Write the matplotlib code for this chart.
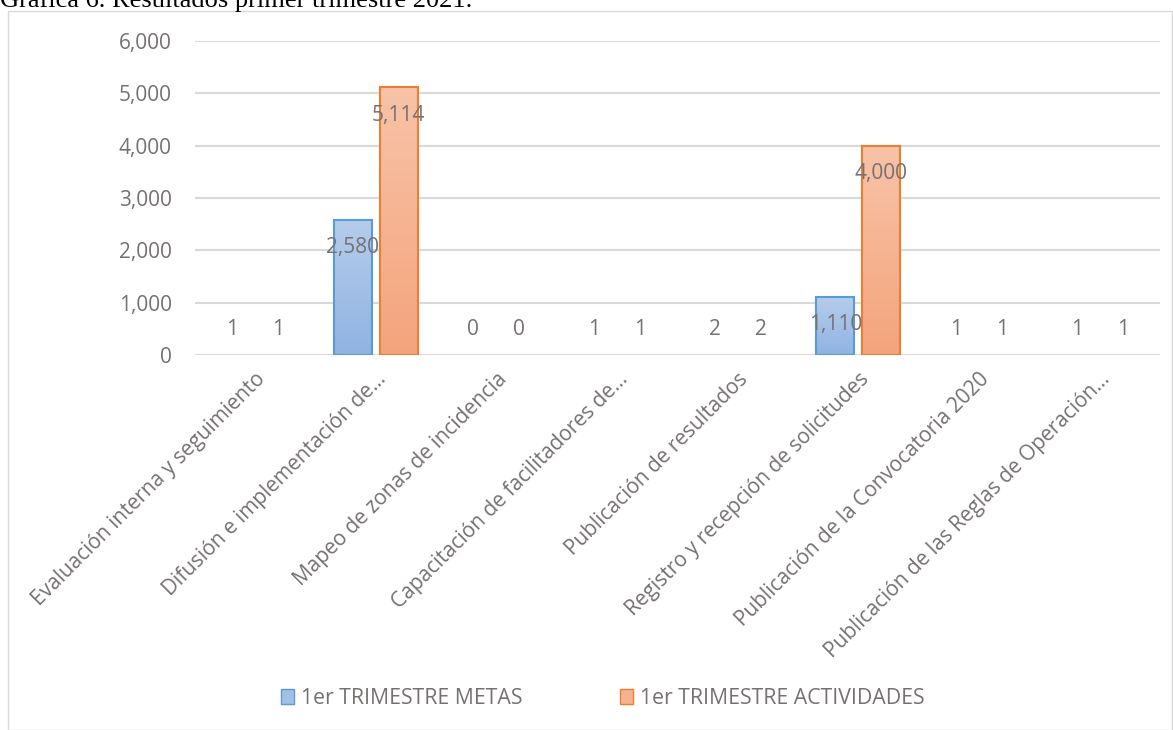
import numpy as np
import matplotlib
matplotlib.use('Agg')
import matplotlib.pyplot as plt
from matplotlib.patches import Patch, Rectangle
from matplotlib.colors import LinearSegmentedColormap

# datos
categorias = [
    "Evaluación interna y seguimiento",
    "Difusión e implementación de…",
    "Mapeo de zonas de incidencia",
    "Capacitación de facilitadores de…",
    "Publicación de resultados",
    "Registro y recepción de solicitudes",
    "Publicación de la Convocatoria 2020",
    "Publicación de las Reglas de Operación…",
]
metas = [1, 2580, 0, 1, 2, 1110, 1, 1]
actividades = [1, 5114, 0, 1, 2, 4000, 1, 1]
serie_nombres = ["1er TRIMESTRE METAS", "1er TRIMESTRE ACTIVIDADES"]

plt.rcParams['font.family'] = ['Open Sans', 'DejaVu Sans']
gris = '#767171'

fig = plt.figure(figsize=(11.73, 7.3), dpi=100)
ax = fig.add_axes([0.166, 0.5137, 0.823, 0.4301])

# marco del grafico
fig.patches.append(Rectangle((8 / 1173, 0), 1 - 8 / 1173 - 0.001, 1 - 11 / 730,
                             transform=fig.transFigure, fill=False,
                             edgecolor='#d9d9d9', linewidth=1.0))

# el titulo sale recortado arriba, como en el original
fig.text(0.0, 1 - 7 / 730, "Gráfica 6. Resultados primer trimestre 2021.",
         family='Liberation Serif', fontsize=19, color='black', va='baseline')

x = np.arange(len(categorias))
ancho = 0.315
sep = 0.066

azul_cmap = LinearSegmentedColormap.from_list('az', ['#8fb3e2', '#b6cdeb'])
nar_cmap = LinearSegmentedColormap.from_list('na', ['#f4a47c', '#f8c3a8'])
grad = np.linspace(0, 1, 256).reshape(-1, 1)

ax.set_xlim(-0.5, len(categorias) - 0.5)
ax.set_ylim(0, 6000)


def alto_px(v):
    return ax.transData.transform((0, v))[1] - ax.transData.transform((0, 0))[1]


def barras(xs, vals, cmap, borde):
    for xi, v in zip(xs, vals):
        if alto_px(v) < 1:
            continue  # barras demasiado pequeñas no se ven
        ax.imshow(grad, cmap=cmap, origin='lower', aspect='auto',
                  extent=(xi - ancho / 2, xi + ancho / 2, 0, v), zorder=2)
        ax.bar(xi, v, width=ancho, facecolor='none', edgecolor=borde,
               linewidth=1.5, zorder=3)


xm = x - (ancho + sep) / 2
xa = x + (ancho + sep) / 2
barras(xm, metas, azul_cmap, '#5b9bd5')
barras(xa, actividades, nar_cmap, '#ed7d31')
ax.set_xlim(-0.5, len(categorias) - 0.5)
ax.set_ylim(0, 6000)

# etiquetas de datos
for xs, vals in ((xm, metas), (xa, actividades)):
    for xi, v in zip(xs, vals):
        if alto_px(v) > 55:
            ax.annotate(f"{v:,}", (xi, v), xytext=(0, -28), textcoords='offset pixels',
                        ha='center', va='center', fontsize=15, color=gris, zorder=4)
        else:
            ax.annotate(f"{v:,}", (xi, 0), xytext=(0, 25), textcoords='offset pixels',
                        ha='center', va='center', fontsize=15, color=gris, zorder=4)

ax.set_yticks(np.arange(0, 6001, 1000))
ax.set_yticklabels([f"{t:,}" for t in range(0, 6001, 1000)])
ax.yaxis.grid(True, color='#d9d9d9', linewidth=1.5, zorder=0)
ax.set_axisbelow(True)
for s in ax.spines.values():
    s.set_visible(False)
ax.tick_params(axis='y', length=0, pad=16.5, labelsize=15, labelcolor=gris)
ax.tick_params(axis='x', length=0, pad=10, labelsize=15, labelcolor=gris)
ax.set_xticks(x)
ax.set_xticklabels(categorias, rotation=45, ha='right', rotation_mode='anchor')

handles = [Patch(facecolor='#a3c0e7', edgecolor='#5b9bd5', label=serie_nombres[0]),
           Patch(facecolor='#f6b392', edgecolor='#ed7d31', label=serie_nombres[1])]
leg = fig.legend(handles=handles, loc='center', bbox_to_anchor=(0.514, 0.043), ncol=2,
                 frameon=False, fontsize=15.3, handlelength=0.61, handleheight=0.75,
                 handletextpad=0.33, columnspacing=4.56)
for t in leg.get_texts():
    t.set_color(gris)

fig.savefig('out.png', dpi=100)
